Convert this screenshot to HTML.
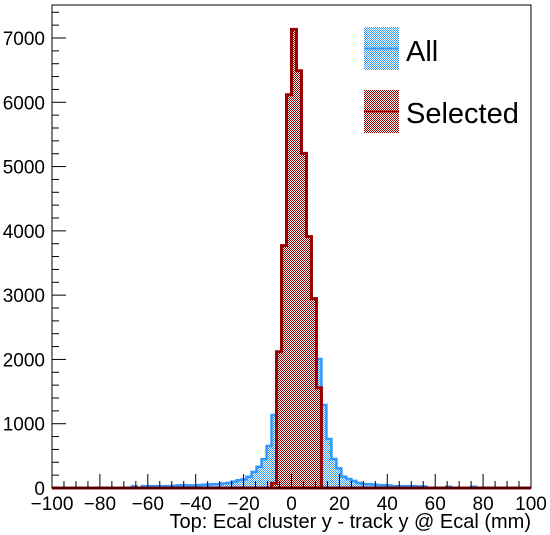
<!DOCTYPE html>
<html><head><meta charset="utf-8"><style>
body{margin:0;background:#fff;}
svg{display:block;font-family:"Liberation Sans",sans-serif;}
</style></head><body>
<svg id="chart" width="550" height="535">
<defs>
<pattern id="pb" width="2" height="2" patternUnits="userSpaceOnUse"><rect width="2" height="2" fill="#fff"/><rect width="1" height="1" fill="#3399ff"/><rect x="1" y="1" width="1" height="1" fill="#3399ff"/></pattern>
<pattern id="pr" width="2" height="2" patternUnits="userSpaceOnUse"><rect width="2" height="2" fill="#fff"/><rect width="1" height="1" fill="#990000"/><rect x="1" y="1" width="1" height="1" fill="#990000"/></pattern>
</defs>
<g id="plot"></g>
<rect x="52" y="5" width="479" height="483" fill="none" stroke="#000" stroke-width="1"/>
<g id="axes"></g>
<text x="531" y="528" text-anchor="end" font-size="20">Top: Ecal cluster y - track y @ Ecal (mm)</text>
<g>
<rect x="364" y="27" width="35" height="43" fill="url(#pb)"/>
<line x1="364" y1="48.5" x2="399" y2="48.5" stroke="#3399ff" stroke-width="2"/>
<text x="406" y="61" font-size="29">All</text>
<rect x="364" y="90" width="35" height="43" fill="url(#pr)"/>
<line x1="364" y1="111.5" x2="399" y2="111.5" stroke="#990000" stroke-width="2"/>
<text x="406" y="123" font-size="29">Selected</text>
</g>
</svg>
<script>
// 96 bins from -100 to 100
const xMin=-100, xMax=100, nBins=96;
const allValues=[0,0,0,0,0,0,0,0,0,0,0,0,0,0,0,0,25,0,30,30,30,30,30,30,35,40,45,40,40,45,50,55,60,60,70,80,100,120,135,175,250,330,450,653,1135,2120,3770,6118,7135,6490,5206,3910,2945,2006,1291,762,451,306,175,140,110,80,60,60,55,45,45,40,30,30,30,30,30,25,25,0,0,0,0,20,0,0,0,0,20,0,0,0,0,0,0,0,0,0,0,0];
const selValues=[0,0,0,0,0,0,0,0,0,0,0,0,0,0,0,0,0,0,0,0,0,0,0,0,0,0,0,0,0,0,0,0,0,0,0,0,0,0,0,0,0,0,0,0,73,2120,3770,6118,7135,6490,5206,3910,2945,1560,0,0,0,0,0,0,0,0,0,0,0,0,0,0,0,0,0,0,0,0,0,0,0,0,0,0,0,0,0,0,0,0,0,0,0,0,0,0,0,0,0,0];
const xTicks=[-100,-80,-60,-40,-20,0,20,40,60,80,100];
const yTicks=[0,1000,2000,3000,4000,5000,6000,7000];
const L=52,R=531,T=5,B=488;
const sx=v=>L+(v-xMin)/(xMax-xMin)*(R-L);
const sy=v=>B-v*(450/7000);
const ns="http://www.w3.org/2000/svg";
function mk(tag,attrs,parent){const e=document.createElementNS(ns,tag);for(const k in attrs)e.setAttribute(k,attrs[k]);parent.appendChild(e);return e;}
const plot=document.getElementById('plot'),axes=document.getElementById('axes');
function hist(vals,fill,stroke,sw,name){
  const bw=(xMax-xMin)/nBins;
  let d='M'+sx(xMin)+','+sy(0);
  for(let i=0;i<vals.length;i++){const x0=sx(xMin+i*bw),x1=sx(xMin+(i+1)*bw),y=sy(vals[i]);d+=' L'+x0+','+y+' L'+x1+','+y;}
  d+=' L'+sx(xMax)+','+sy(0)+' Z';
  const p=mk('path',{d:d,fill:fill,stroke:stroke,'stroke-width':sw},plot);
  
  
}
hist(allValues,'url(#pb)','#3399ff',2.5,'histogram-all');
hist(selValues,'url(#pr)','#990000',3,'histogram-selected');
// x ticks
for(let v=-100;v<=100;v+=5){const major=v%20===0;mk('line',{x1:sx(v),x2:sx(v),y1:B,y2:B-(major?14:7),stroke:'#000'},axes);}
xTicks.forEach(v=>{const t=mk('text',{x:sx(v),y:510,'text-anchor':'middle','font-size':19},axes);t.textContent=(v<0?'\u2212'+(-v):v);

});
// y ticks
for(let v=0;v<=7400;v+=200){const major=v%1000===0;if(sy(v)<T)break;mk('line',{x1:L,x2:L+(major?14:7),y1:sy(v),y2:sy(v),stroke:'#000'},axes);}
yTicks.forEach(v=>{const t=mk('text',{x:45,y:sy(v)+7,'text-anchor':'end','font-size':19},axes);t.textContent=v;

});
</script>
</body></html>
